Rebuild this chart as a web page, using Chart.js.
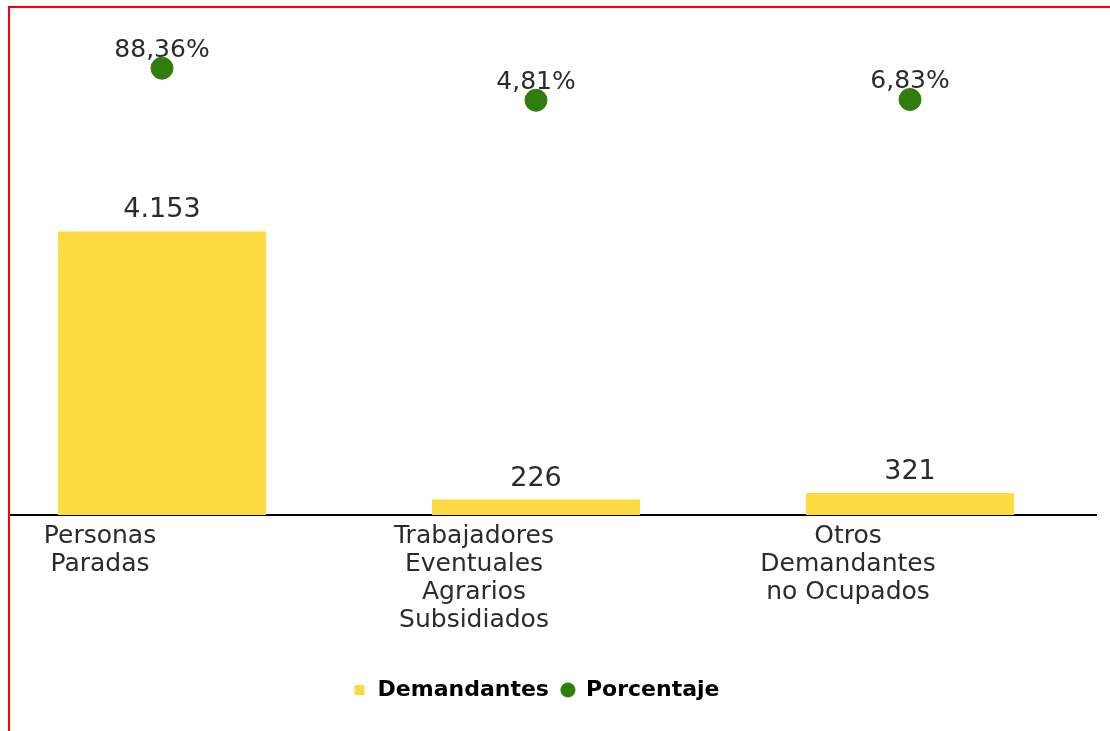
<!DOCTYPE html>
<html lang="es">
<head>
<meta charset="utf-8">
<title>Demandantes</title>
<script src="https://cdn.jsdelivr.net/npm/chart.js@4"></script>
<style>
    html, body { margin: 0; padding: 0; background: #fff; overflow: hidden; }
    #frame {
        position: absolute; left: 8px; top: 6px;
        width: 1200px; height: 800px;
        border-left: 2px solid #ff0000; border-top: 2px solid #ff0000;
        overflow: hidden;
    }
    #wrap { position: absolute; left: -35px; top: 0; width: 1122px; height: 723px; }
</style>
</head>
<body>
<div id="frame">
    <div id="wrap"><canvas id="chart"></canvas></div>
</div>
<script>
// Data
const categories = [
    ['Personas', 'Paradas'],
    ['Trabajadores', 'Eventuales', 'Agrarios', 'Subsidiados'],
    ['Otros', 'Demandantes', 'no Ocupados']
];
const demandantes = [4153, 226, 321];
const porcentaje = [88.36, 4.81, 6.83];

const yellow = '#fdda40';
const green = '#2f7d0b';
const textColor = '#2b2b2b';

Chart.defaults.font.family = "'DejaVu Sans', Verdana, sans-serif";

// 4153 -> "4.153"
function fmtNumber(v) {
    return String(v).replace(/\B(?=(\d{3})+(?!\d))/g, '.');
}
// 88.36 -> "88,36%"
function fmtPercent(v) {
    return v.toFixed(2).replace('.', ',') + '%';
}

// Draw the value labels
const valueLabels = {
    id: 'valueLabels',
    beforeDatasetsDraw(chart) {
        const ctx = chart.ctx;
        const meta = chart.getDatasetMeta(1);
        ctx.save();
        ctx.fillStyle = textColor;
        ctx.font = "25px 'DejaVu Sans', sans-serif";
        ctx.textAlign = 'center';
        ctx.textBaseline = 'alphabetic';
        meta.data.forEach((pt, i) => {
            ctx.fillText(fmtPercent(porcentaje[i]), pt.x, pt.y - 11);
        });
        ctx.restore();
    },
    afterDatasetsDraw(chart) {
        const ctx = chart.ctx;
        const meta = chart.getDatasetMeta(0);
        ctx.save();
        ctx.fillStyle = textColor;
        ctx.font = "27px 'DejaVu Sans', sans-serif";
        ctx.textAlign = 'center';
        ctx.textBaseline = 'alphabetic';
        meta.data.forEach((bar, i) => {
            ctx.fillText(fmtNumber(demandantes[i]), bar.x, bar.y - 14);
        });
        ctx.restore();
    }
};

new Chart(document.getElementById('chart'), {
    data: {
        labels: categories,
        datasets: [{
            type: 'bar',
            label: 'Demandantes',
            data: demandantes,
            backgroundColor: yellow,
            borderWidth: 0,
            categoryPercentage: 1,
            barPercentage: 0.556,
            pointStyle: 'rect',
            yAxisID: 'y'
        }, {
            type: 'line',
            label: 'Porcentaje',
            data: porcentaje,
            showLine: false,
            backgroundColor: green,
            borderColor: green,
            pointBackgroundColor: green,
            pointBorderColor: green,
            pointRadius: 11,
            pointHoverRadius: 11,
            pointStyle: 'circle',
            yAxisID: 'y2'
        }]
    },
    options: {
        responsive: true,
        maintainAspectRatio: false,
        animation: false,
        layout: { autoPadding: false, padding: { top: 12, bottom: 20, left: 0, right: 0 } },
        plugins: {
            legend: {
                position: 'bottom',
                labels: {
                    usePointStyle: true,
                    boxWidth: 14,
                    boxHeight: 10,
                    padding: 12,
                    color: '#000',
                    font: { size: 22, weight: 'bold' }
                }
            },
            tooltip: { enabled: false }
        },
        scales: {
            x: {
                grid: { display: false, drawTicks: false },
                border: { display: true, color: '#000', width: 2 },
                ticks: {
                    color: textColor,
                    font: { size: 25, lineHeight: '28px' },
                    padding: 7,
                    labelOffset: -62,
                    maxRotation: 0,
                    autoSkip: false
                },
                afterFit(scale) { scale.height = 152; }
            },
            y: {
                display: false,
                min: 0,
                max: 7249
            },
            y2: {
                display: false,
                position: 'right',
                min: -1076,
                max: 214
            }
        }
    },
    plugins: [valueLabels]
});
</script>
</body>
</html>
